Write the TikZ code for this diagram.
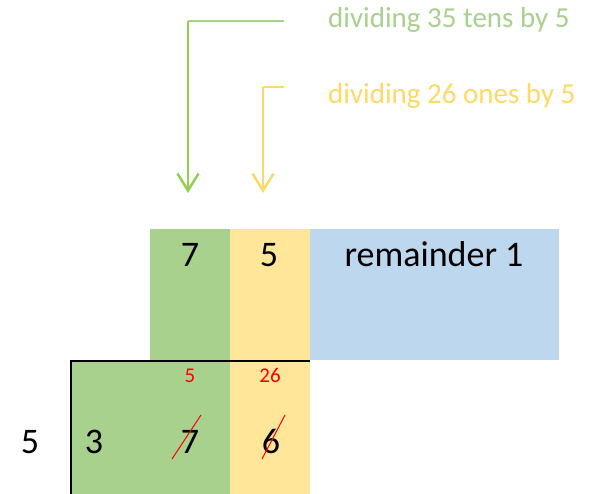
\documentclass[tikz,border=0pt]{standalone}
\usepackage{fontspec}
\setmainfont{Carlito}
\usetikzlibrary{arrows.meta}
\definecolor{tensgreen}{HTML}{A9D18E}
\definecolor{arrowgreen}{HTML}{92D050}
\definecolor{onesyellow}{HTML}{FFE699}
\definecolor{arrowyellow}{HTML}{FFD966}
\definecolor{remblue}{HTML}{BDD7EE}
\begin{document}
\begin{tikzpicture}[x=1pt,y=-1pt,
  big/.style={font=\fontsize{36}{40}\selectfont,anchor=base,inner sep=0pt},
  carry/.style={font=\fontsize{21}{24}\selectfont,text=red,anchor=base,inner sep=0pt},
  note/.style={font=\fontsize{29}{32}\selectfont,anchor=base west,inner sep=0pt},
  downarrow/.style={line width=2.5pt,-{Straight Barb[length=17pt,width=21pt]}}]
\useasboundingbox (0,0) rectangle (598,494);

% quotient row
\fill[tensgreen]  (150,229) rectangle (230,361);
\fill[onesyellow] (230,229) rectangle (310,361);
\fill[remblue]    (310,229) rectangle (559,360);

% dividend row
\fill[tensgreen]  (71,361) rectangle (230,494);
\fill[onesyellow] (230,361) rectangle (310,494);
\draw[line width=2pt] (71,494) -- (71,361) -- (310,361);

\node[big] (q1)  at (190,267) {7};
\node[big] (q2)  at (269,267) {5};
\node[big] (rem) at (434,267) {remainder 1};

\node[big] (dv)  at (30,454)  {5};
\node[big] (d1)  at (94,454)  {3};
\node[big] (d2)  at (190,454) {7};
\node[big] (d3)  at (271,454) {6};

\node[carry] (c1) at (190,383) {5};
\node[carry] (c2) at (270,383) {26};

\draw[red,line width=1pt] (172,459) -- (201,415);
\draw[red,line width=1pt] (262,459) -- (285,415);

% arrows
\node[note,text=tensgreen]   (tens) at (328,28)  {dividing 35 tens by 5};
\node[note,text=arrowyellow] (ones) at (328,104) {dividing 26 ones by 5};

\coordinate (g0) at (284,21);
\coordinate (g1) at (188,21);
\coordinate (g2) at (188,193);
\coordinate (y0) at (284,87);
\coordinate (y1) at (263,87);
\coordinate (y2) at (263,193);

\draw[tensgreen,line width=1.5pt] (g0) -- (g1);
\draw[arrowgreen,downarrow] (g1) -- (g2);
\draw[arrowyellow,line width=1.5pt] (y0) -- (y1);
\draw[arrowyellow,downarrow] (y1) -- (y2);
\end{tikzpicture}
\end{document}
